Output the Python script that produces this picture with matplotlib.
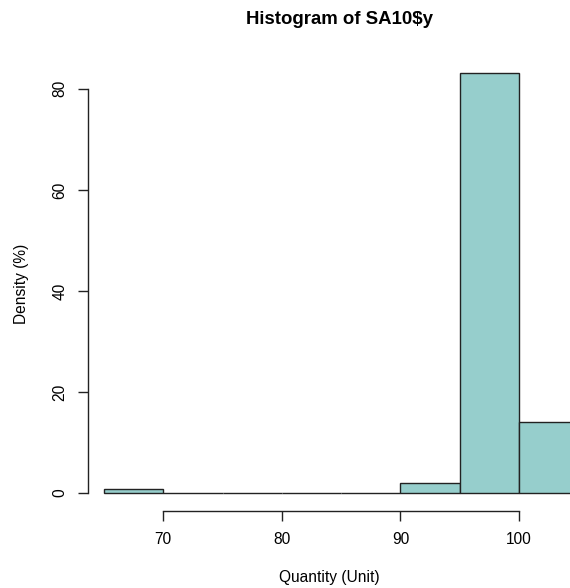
import numpy as np
import matplotlib
matplotlib.use('Agg')
import matplotlib.pyplot as plt

plt.rcParams['font.family'] = ['Liberation Sans', 'DejaVu Sans']

# bin edges and density (%)
bin_edges = [65, 70, 75, 80, 85, 90, 95, 100, 105]
density = [0.8, 0.0, 0.0, 0.0, 0.0, 2.0, 83.2, 14.0]
x_ticks = [70, 80, 90, 100]
y_ticks = [0, 20, 40, 60, 80]

fig = plt.figure(figsize=(5.70, 5.88), dpi=100)
ax = fig.add_axes([88 / 570, 77 / 588, 482 / 570, 455 / 588])

lefts = np.array(bin_edges[:-1])
widths = np.diff(bin_edges)
ax.bar(lefts, density, width=widths, align='edge', color='#96cecc',
       edgecolor='#222222', linewidth=1.0)

ax.set_xlim(63.65, 104.3)
ax.set_ylim(-3.56, 86.5)

# R-style axes: only the range covered by ticks
for side in ['top', 'right']:
    ax.spines[side].set_visible(False)
ax.spines['bottom'].set_bounds(x_ticks[0], x_ticks[-1])
ax.spines['left'].set_bounds(y_ticks[0], y_ticks[-1])
for side in ['bottom', 'left']:
    ax.spines[side].set_color('#222222')
    ax.spines[side].set_linewidth(1.0)

ax.set_xticks(x_ticks)
ax.set_yticks(y_ticks)
ax.set_yticklabels([str(v) for v in y_ticks], rotation=90, va='center')
ax.tick_params(direction='out', length=7, width=1.0, color='#222222',
               labelsize=11.2, pad=8)

ax.set_xlabel('Quantity (Unit)', fontsize=11.2, labelpad=17)
ax.set_ylabel('Density (%)', fontsize=11.2, labelpad=17)
fig.text(340 / 570, 1 - 20 / 588, 'Histogram of SA10\\$y',
         ha='center', va='center', fontsize=13.4, fontweight='bold')

fig.savefig('out.png', dpi=100)
